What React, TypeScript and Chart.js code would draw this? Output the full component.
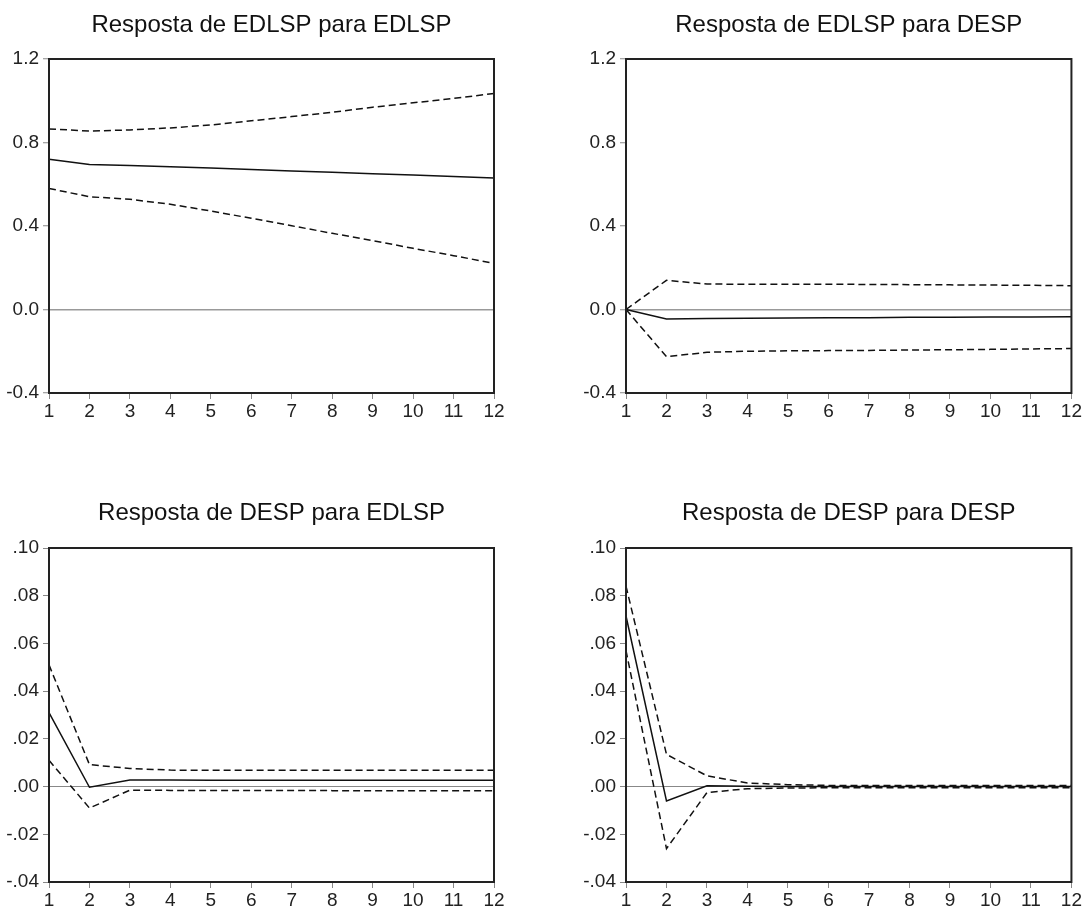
import React, { useEffect, useRef } from "react";
import { Chart, registerables } from "chart.js";
Chart.register(...registerables);

const FAMILY = "'Liberation Sans', Arial, sans-serif";

const periods = ["1", "2", "3", "4", "5", "6", "7", "8", "9", "10", "11", "12"];

const yTickValsLevel = [-0.4, 0, 0.4, 0.8, 1.2];
const yTickLabelsLevel = ["-0.4", "0.0", "0.4", "0.8", "1.2"];
const yTickValsSmall = [-0.04, -0.02, 0, 0.02, 0.04, 0.06, 0.08, 0.1];
const yTickLabelsSmall = ["-.04", "-.02", ".00", ".02", ".04", ".06", ".08", ".10"];

// Resposta de EDLSP para EDLSP
const edlspEdlspResp = [0.72, 0.695, 0.69, 0.684, 0.678, 0.671, 0.664, 0.657, 0.65, 0.644, 0.637, 0.63];
const edlspEdlspUpper = [0.865, 0.855, 0.86, 0.87, 0.884, 0.904, 0.924, 0.945, 0.969, 0.99, 1.011, 1.035];
const edlspEdlspLower = [0.58, 0.54, 0.528, 0.504, 0.472, 0.437, 0.401, 0.365, 0.33, 0.293, 0.258, 0.221];

// Resposta de EDLSP para DESP
const edlspDespResp = [0, -0.045, -0.043, -0.042, -0.041, -0.04, -0.039, -0.037, -0.037, -0.036, -0.036, -0.035];
const edlspDespUpper = [0, 0.14, 0.122, 0.121, 0.121, 0.121, 0.12, 0.119, 0.118, 0.117, 0.116, 0.114];
const edlspDespLower = [0, -0.226, -0.205, -0.2, -0.198, -0.197, -0.196, -0.194, -0.193, -0.191, -0.189, -0.187];

// Resposta de DESP para EDLSP
const despEdlspResp = [0.031, -0.0003, 0.0028, 0.0028, 0.0026, 0.0026, 0.0026, 0.0026, 0.0026, 0.0026, 0.0026, 0.0026];
const despEdlspUpper = [0.051, 0.0092, 0.0076, 0.0069, 0.0068, 0.0068, 0.0068, 0.0068, 0.0068, 0.0068, 0.0068, 0.0068];
const despEdlspLower = [0.011, -0.009, -0.0015, -0.0016, -0.0016, -0.0016, -0.0016, -0.0017, -0.0018, -0.0018, -0.0018, -0.0018];

// Resposta de DESP para DESP
const despDespResp = [0.0715, -0.006, 0.0003, 0.0001, 0, 0, 0, 0, 0, 0, 0, 0];
const despDespUpper = [0.084, 0.0135, 0.0045, 0.0015, 0.0008, 0.0005, 0.0005, 0.0005, 0.0005, 0.0005, 0.0005, 0.0005];
const despDespLower = [0.057, -0.026, -0.0025, -0.0009, -0.0006, -0.0005, -0.0005, -0.0005, -0.0005, -0.0005, -0.0005, -0.0005];

type PanelProps = {
  title: string;
  resp: number[];
  upper: number[];
  lower: number[];
  tickVals: number[];
  tickLabels: string[];
  cl: number; ct: number; cw: number; ch: number;
  aL: number; aT: number; aR: number; aB: number;
  titleY: number;
  zeroColor: string;
  zeroWidth: number;
};

function Panel(p: PanelProps) {
  const ref = useRef<HTMLCanvasElement | null>(null);
  useEffect(() => {
    if (!ref.current) return;
    const lineDs = (data: number[], dashed: boolean) => ({
      data,
      borderColor: "#111",
      borderWidth: 1.5,
      borderDash: dashed ? [7, 4] : [],
      pointRadius: 0,
      tension: 0,
      fill: false,
    });
    const frameTitle = {
      id: "frameTitle",
      afterDraw(chart: any) {
        const { ctx, chartArea: a } = chart;
        ctx.save();
        ctx.strokeStyle = "#222";
        ctx.lineWidth = 2;
        ctx.setLineDash([]);
        ctx.strokeRect(a.left, a.top, a.right - a.left, a.bottom - a.top);
        ctx.fillStyle = "#111";
        ctx.font = `24px ${FAMILY}`;
        ctx.textAlign = "center";
        ctx.textBaseline = "alphabetic";
        ctx.fillText(p.title, (a.left + a.right) / 2, p.titleY);
        ctx.restore();
      },
    };
    const chart = new Chart(ref.current, {
      type: "line",
      data: {
        labels: periods,
        datasets: [lineDs(p.upper, true), lineDs(p.resp, false), lineDs(p.lower, true)],
      },
      options: {
        animation: false,
        responsive: false,
        maintainAspectRatio: false,
        devicePixelRatio: 1,
        layout: { padding: { left: 0, top: p.aT, right: p.cw - p.aR, bottom: 0 } },
        plugins: {
          legend: { display: false },
          tooltip: { enabled: false },
          title: { display: false },
        },
        scales: {
          x: {
            type: "category",
            offset: false,
            grid: { drawOnChartArea: false, drawTicks: true, tickLength: 6, tickColor: "#888", tickWidth: 1 },
            border: { display: false },
            ticks: { color: "#222", font: { size: 19, family: FAMILY }, padding: 1, autoSkip: false, maxRotation: 0 },
            afterFit: (s: any) => { s.height = p.ch - p.aB; },
          },
          y: {
            type: "linear",
            min: p.tickVals[0],
            max: p.tickVals[p.tickVals.length - 1],
            afterBuildTicks: (s: any) => { s.ticks = p.tickVals.map((v) => ({ value: v })); },
            ticks: {
              color: "#222",
              font: { size: 19, family: FAMILY },
              padding: 4,
              callback: (_v: any, i: number) => p.tickLabels[i],
            },
            grid: {
              color: (c: any) => (c.tick && Math.abs(c.tick.value) < 1e-12 ? p.zeroColor : "rgba(0,0,0,0)"),
              lineWidth: p.zeroWidth,
              drawTicks: true,
              tickLength: 6,
              tickColor: "#888",
              tickWidth: 1,
            },
            border: { display: false },
            afterFit: (s: any) => { s.width = p.aL; },
          },
        },
      } as any,
      plugins: [frameTitle],
    });
    return () => chart.destroy();
  }, []);
  return (
    <canvas
      ref={ref}
      width={p.cw}
      height={p.ch}
      style={{ position: "absolute", left: p.cl, top: p.ct, width: p.cw, height: p.ch }}
    />
  );
}

export default function App() {
  return (
    <div style={{ position: "absolute", left: 0, top: 0, width: 1083, height: 909, background: "#fff", overflow: "hidden" }}>
      <Panel title="Resposta de EDLSP para EDLSP" resp={edlspEdlspResp} upper={edlspEdlspUpper} lower={edlspEdlspLower}
        tickVals={yTickValsLevel} tickLabels={yTickLabelsLevel}
        cl={0} ct={0} cw={541} ch={454} aL={49} aT={59} aR={494} aB={393} titleY={32} zeroColor="#999" zeroWidth={1.5} />
      <Panel title="Resposta de EDLSP para DESP" resp={edlspDespResp} upper={edlspDespUpper} lower={edlspDespLower}
        tickVals={yTickValsLevel} tickLabels={yTickLabelsLevel}
        cl={541} ct={0} cw={542} ch={454} aL={85} aT={59} aR={531} aB={393} titleY={32} zeroColor="#999" zeroWidth={1.5} />
      <Panel title="Resposta de DESP para EDLSP" resp={despEdlspResp} upper={despEdlspUpper} lower={despEdlspLower}
        tickVals={yTickValsSmall} tickLabels={yTickLabelsSmall}
        cl={0} ct={454} cw={541} ch={455} aL={49} aT={94} aR={494} aB={428} titleY={66} zeroColor="#888" zeroWidth={1} />
      <Panel title="Resposta de DESP para DESP" resp={despDespResp} upper={despDespUpper} lower={despDespLower}
        tickVals={yTickValsSmall} tickLabels={yTickLabelsSmall}
        cl={541} ct={454} cw={542} ch={455} aL={85} aT={94} aR={531} aB={428} titleY={66} zeroColor="#888" zeroWidth={1} />
    </div>
  );
}
